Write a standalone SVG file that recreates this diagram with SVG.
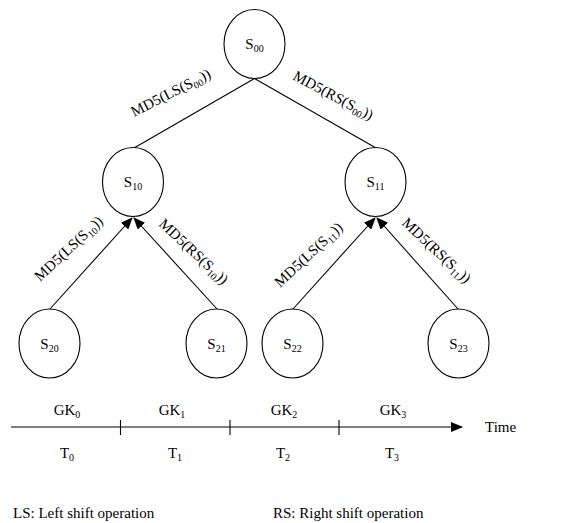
<svg xmlns="http://www.w3.org/2000/svg" width="579" height="523" viewBox="0 0 579 523">
<style>
text{font-family:"Liberation Serif","Times New Roman",serif;font-size:15px;fill:#000}
.sub{font-size:10px}
.node{fill:#fff;stroke:#000;stroke-width:1.1}
.edge{stroke:#000;stroke-width:1.1;fill:none}
.c{text-anchor:middle}
</style>
<defs>
<marker id="ah" markerWidth="12" markerHeight="10" refX="11" refY="5" orient="auto" markerUnits="userSpaceOnUse">
<path d="M0,0 L12,5 L0,10 Z" fill="#000"/>
</marker>
</defs>
<rect width="579" height="523" fill="#fff"/>
<g id="connectors">
<line class="edge" x1="254.5" y1="78.5" x2="134" y2="148"/>
<line class="edge" x1="254.5" y1="78.5" x2="376" y2="148"/>
<line class="edge" x1="50" y1="309" x2="132" y2="218" marker-end="url(#ah)"/>
<line class="edge" x1="217" y1="309" x2="134" y2="218" marker-end="url(#ah)"/>
<line class="edge" x1="293" y1="309" x2="375" y2="218" marker-end="url(#ah)"/>
<line class="edge" x1="458" y1="309" x2="377" y2="218" marker-end="url(#ah)"/>
<text transform="translate(134,117) rotate(-27)">MD5(LS(S<tspan class="sub" dy="3">00</tspan><tspan dy="-3">))</tspan></text>
<text transform="translate(292,79) rotate(28)">MD5(RS(S<tspan class="sub" dy="3">00</tspan><tspan dy="-3">))</tspan></text>
<text transform="translate(40,282) rotate(-43)">MD5(LS(S<tspan class="sub" dy="3">10</tspan><tspan dy="-3">))</tspan></text>
<text transform="translate(158,225) rotate(43)">MD5(RS(S<tspan class="sub" dy="3">10</tspan><tspan dy="-3">))</tspan></text>
<text transform="translate(280,288) rotate(-43)">MD5(LS(S<tspan class="sub" dy="3">11</tspan><tspan dy="-3">))</tspan></text>
<text transform="translate(401,224) rotate(43)">MD5(RS(S<tspan class="sub" dy="3">11</tspan><tspan dy="-3">))</tspan></text>
</g>
<g id="S00"><ellipse class="node" cx="254.5" cy="44" rx="30.5" ry="34.5"/><text class="c" x="254.5" y="49">S<tspan class="sub" dy="3">00</tspan></text></g>
<g id="S10"><ellipse class="node" cx="133" cy="182" rx="30.5" ry="34.5"/><text class="c" x="133" y="187">S<tspan class="sub" dy="3">10</tspan></text></g>
<g id="S11"><ellipse class="node" cx="375.5" cy="182" rx="30.5" ry="34.5"/><text class="c" x="375.5" y="187">S<tspan class="sub" dy="3">11</tspan></text></g>
<g id="S20"><ellipse class="node" cx="49.5" cy="343.5" rx="30.5" ry="34.5"/><text class="c" x="49.5" y="348.5">S<tspan class="sub" dy="3">20</tspan></text></g>
<g id="S21"><ellipse class="node" cx="216.5" cy="343.5" rx="30.5" ry="34.5"/><text class="c" x="216.5" y="348.5">S<tspan class="sub" dy="3">21</tspan></text></g>
<g id="S22"><ellipse class="node" cx="292.5" cy="343.5" rx="30.5" ry="34.5"/><text class="c" x="292.5" y="348.5">S<tspan class="sub" dy="3">22</tspan></text></g>
<g id="S23"><ellipse class="node" cx="458.5" cy="343.5" rx="30.5" ry="34.5"/><text class="c" x="458.5" y="348.5">S<tspan class="sub" dy="3">23</tspan></text></g>
<g id="timeline">
<line class="edge" x1="11" y1="427" x2="462" y2="427" marker-end="url(#ah)"/>
<line class="edge" x1="120.5" y1="420" x2="120.5" y2="435"/>
<line class="edge" x1="230" y1="420" x2="230" y2="435"/>
<line class="edge" x1="339" y1="420" x2="339" y2="435"/>
<text x="485" y="432">Time</text>
<text class="c" x="67" y="415">GK<tspan class="sub" dy="3">0</tspan></text>
<text class="c" x="172" y="415">GK<tspan class="sub" dy="3">1</tspan></text>
<text class="c" x="284" y="415">GK<tspan class="sub" dy="3">2</tspan></text>
<text class="c" x="393" y="415">GK<tspan class="sub" dy="3">3</tspan></text>
<text class="c" x="67" y="458">T<tspan class="sub" dy="3">0</tspan></text>
<text class="c" x="175" y="458">T<tspan class="sub" dy="3">1</tspan></text>
<text class="c" x="283" y="458">T<tspan class="sub" dy="3">2</tspan></text>
<text class="c" x="392" y="458">T<tspan class="sub" dy="3">3</tspan></text>
</g>
<g id="legend">
<text x="13" y="518">LS: Left shift operation</text>
<text x="273" y="518">RS: Right shift operation</text>
</g>
</svg>
